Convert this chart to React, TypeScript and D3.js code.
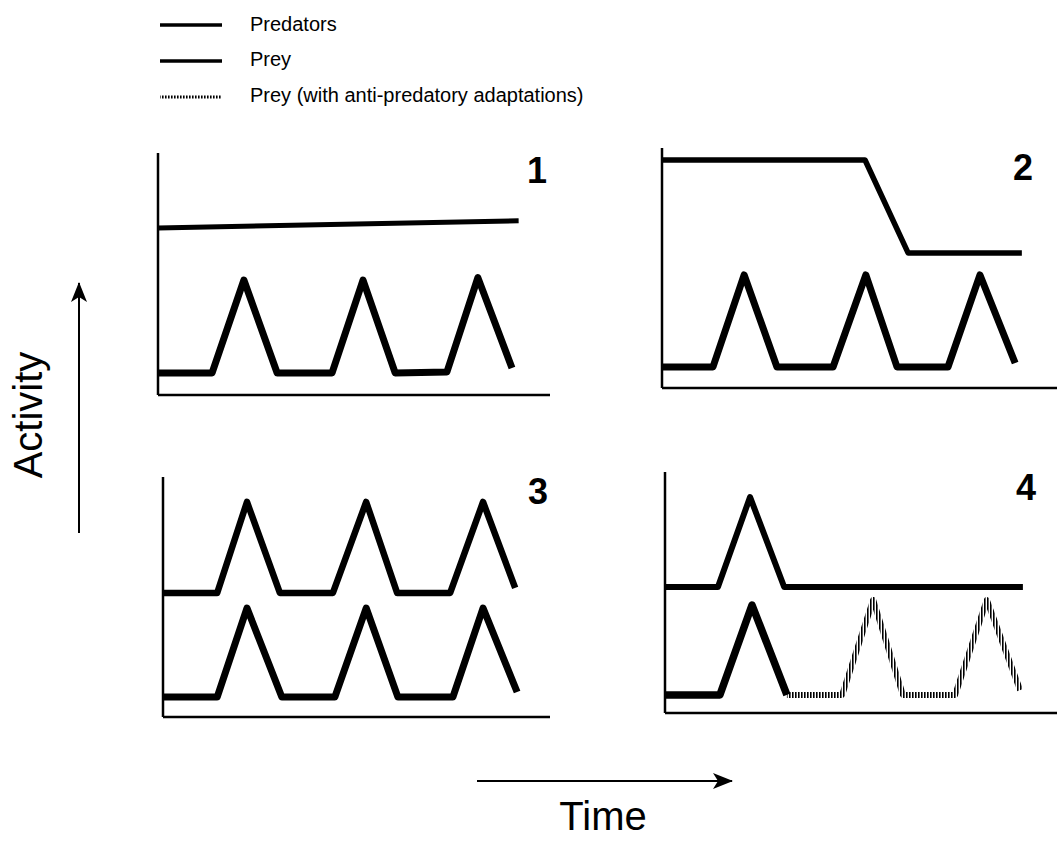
import React from "react";
import * as d3 from "d3";

// ---- Data (time 0..100, activity 0..100 in each panel) ----
type Pt = [number, number];

const legendLabels = ["Predators", "Prey", "Prey (with anti-predatory adaptations)"];
const panelLabels = ["1", "2", "3", "4"];

const p1Predators: Pt[] = [[0, 69], [92, 72]];
const p1Prey: Pt[] = [[0, 9.1], [13.8, 9.1], [21.9, 47.5], [30.4, 9.1], [44.4, 9.1], [52.3, 47.5], [60.5, 9.1], [73.7, 9.5], [81.6, 48.5], [90.3, 11.2]];

const p2Predators: Pt[] = [[0, 95], [51.4, 95], [62.3, 56.3], [91.1, 56.3]];
const p2Prey: Pt[] = [[0, 8.75], [12.9, 8.75], [20.8, 47.1], [29.1, 8.75], [43.3, 8.75], [51.6, 47.1], [59.5, 8.75], [72.4, 8.75], [80.5, 47.1], [89.4, 10.4]];

const p3Predators: Pt[] = [[0, 51.7], [14, 51.7], [21.7, 89.6], [30.2, 51.7], [43.9, 51.7], [52.5, 89.6], [60.5, 51.7], [74.2, 51.7], [82.7, 89.6], [91, 53.8]];
const p3Prey: Pt[] = [[0, 8.3], [14, 8.3], [21.7, 45.4], [30.7, 8.3], [44.4, 8.3], [52.5, 45.4], [60.7, 8.3], [74.9, 8.3], [82.7, 45.4], [91.5, 10.4]];

const p4Predators: Pt[] = [[0, 52.3], [13.5, 52.3], [21.7, 89.6], [30.4, 52.3], [91.3, 52.3]];
const p4Prey: Pt[] = [[0, 7.5], [14, 7.5], [22.2, 44.8], [31.1, 7.5]];
const p4PreyAdapted: Pt[] = [[31.1, 7.5], [45.2, 7.5], [53.1, 46.9], [60.7, 7.5], [74, 7.5], [82.1, 46.9], [90.6, 9.5]];

// ---- Layout ----
const FONT = "'Liberation Sans', Arial, Helvetica, sans-serif";

type Frame = { x0: number; x1: number; yTop: number; yBottom: number; labelX: number; labelY: number };
const frames: Frame[] = [
  { x0: 158, x1: 550, yTop: 153, yBottom: 395, labelX: 527, labelY: 183 },
  { x0: 662, x1: 1057, yTop: 148, yBottom: 388, labelX: 1013, labelY: 180 },
  { x0: 163, x1: 550, yTop: 477, yBottom: 717, labelX: 528, labelY: 504 },
  { x0: 665, x1: 1057, yTop: 472, yBottom: 713, labelX: 1016, labelY: 500 },
];

type Series = { data: Pt[]; kind: "pred" | "prey" | "adapted"; width: number };
const panelSeries: Series[][] = [
  [{ data: p1Predators, kind: "pred", width: 5 }, { data: p1Prey, kind: "prey", width: 7 }],
  [{ data: p2Predators, kind: "pred", width: 5.5 }, { data: p2Prey, kind: "prey", width: 7 }],
  [{ data: p3Predators, kind: "pred", width: 6.5 }, { data: p3Prey, kind: "prey", width: 7 }],
  [
    { data: p4Predators, kind: "pred", width: 6 },
    { data: p4Prey, kind: "prey", width: 7.5 },
    { data: p4PreyAdapted, kind: "adapted", width: 6 },
  ],
];

function Panel({ frame, series, label }: { frame: Frame; series: Series[]; label: string }) {
  const x = d3.scaleLinear().domain([0, 100]).range([frame.x0, frame.x1]);
  const y = d3.scaleLinear().domain([0, 100]).range([frame.yBottom, frame.yTop]);
  const line = d3
    .line<Pt>()
    .x((d) => x(d[0]))
    .y((d) => y(d[1]));
  return (
    <g>
      <line x1={x(0)} x2={x(0)} y1={y(0)} y2={y(100)} stroke="#000" strokeWidth={2.5} />
      <line x1={x(0)} x2={x(100)} y1={y(0)} y2={y(0)} stroke="#000" strokeWidth={2.5} />
      {series.map((s, i) => (
        <path
          key={i}
          d={line(s.data) || ""}
          fill="none"
          stroke={s.kind === "adapted" ? "url(#vHatch)" : "#000"}
          strokeWidth={s.width}
          strokeLinejoin="round"
          strokeLinecap="butt"
        />
      ))}
      <text x={frame.labelX} y={frame.labelY} fontFamily={FONT} fontWeight="bold" fontSize={36} fill="#000">
        {label}
      </text>
    </g>
  );
}

export default function App() {
  const legendY = [25, 61, 97];
  const legendTextY = [31, 66, 102];
  return (
    <svg width={1063} height={846} style={{ position: "absolute", left: 0, top: 0, background: "#fff" }}>
      <rect x={0} y={0} width={1063} height={846} fill="#fff" />
      <defs>
        <marker id="arrowHead" viewBox="0 0 20 16" refX={19} refY={8} markerWidth={20} markerHeight={16} markerUnits="userSpaceOnUse" orient="auto">
          <path d="M0,0 L20,8 L0,16 L5,8 Z" fill="#000" />
        </marker>
        <pattern id="vHatch" patternUnits="userSpaceOnUse" width={3} height={10}>
          <rect x={0} y={0} width={1.6} height={10} fill="#000" />
        </pattern>
      </defs>
      {/* Legend */}
      {legendLabels.map((lab, i) => (
        <g key={lab}>
          <line
            x1={160}
            x2={222}
            y1={legendY[i]}
            y2={legendY[i]}
            stroke={i === 2 ? "url(#vHatch)" : "#000"}
            strokeWidth={i === 2 ? 3 : 3.5}
          />
          <text x={250} y={legendTextY[i]} fontFamily={FONT} fontSize={20} fill="#000">
            {lab}
          </text>
        </g>
      ))}
      {frames.map((f, i) => (
        <Panel key={i} frame={f} series={panelSeries[i]} label={panelLabels[i]} />
      ))}
      {/* Activity axis */}
      <line x1={79} x2={79} y1={533} y2={283} stroke="#000" strokeWidth={2} markerEnd="url(#arrowHead)" />
      <text transform="translate(42,415) rotate(-90)" textAnchor="middle" fontFamily={FONT} fontSize={40} fill="#000">
        Activity
      </text>
      {/* Time axis */}
      <line x1={477} x2={732} y1={781} y2={781} stroke="#000" strokeWidth={2} markerEnd="url(#arrowHead)" />
      <text x={603} y={830} textAnchor="middle" fontFamily={FONT} fontSize={40} fill="#000">
        Time
      </text>
    </svg>
  );
}
